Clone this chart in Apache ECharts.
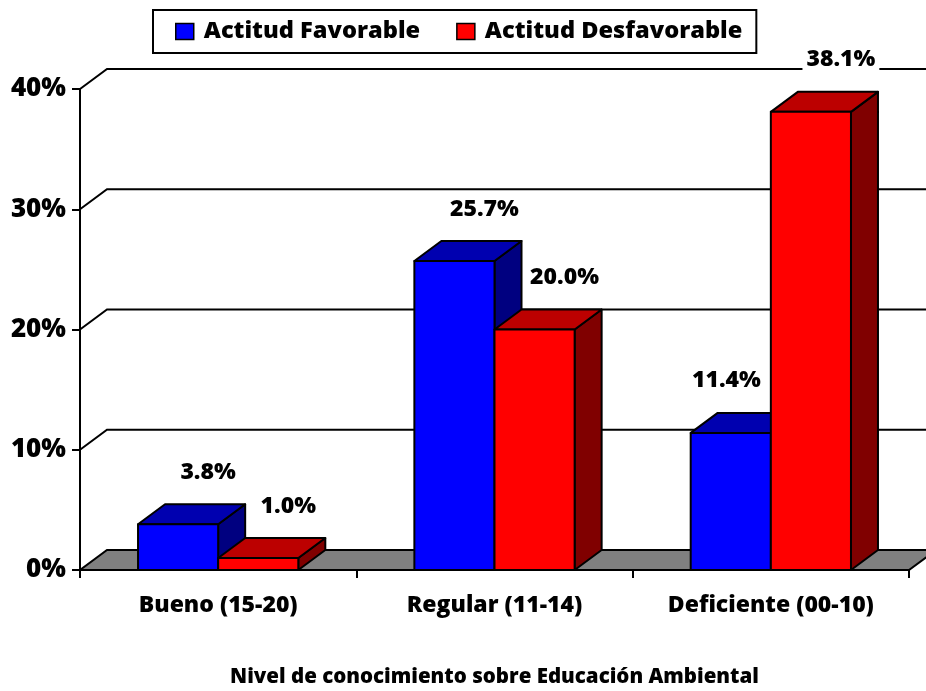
<!DOCTYPE html>
<html>
<head>
<meta charset="utf-8">
<script src="https://cdn.jsdelivr.net/npm/echarts@6/dist/echarts.min.js"></script>
<style>
  html, body { margin: 0; padding: 0; background: #fff; }
  #chart { width: 926px; height: 691px; }
</style>
</head>
<body>
<div id="chart"></div>
<script>
// Data
const categories = ['Bueno (15-20)', 'Regular (11-14)', 'Deficiente (00-10)'];
const seriesNames = ['Actitud Favorable', 'Actitud Desfavorable'];
const favorable = [3.8, 25.7, 11.4];
const desfavorable = [1.0, 20.0, 38.1];
const yTicks = [0, 10, 20, 30, 40];
const axisTitle = 'Nivel de conocimiento sobre Educación Ambiental';

// Pseudo-3D look
const DX = 27, DY = 20;          // depth offset of the back wall
const BAR_FRAC = 0.29;           // bar width as share of a category band
const FONT = '"Open Sans", "DejaVu Sans", sans-serif';
const WEIGHT = 800;
const LABEL_SIZE = 23;
const palettes = [
  { front: '#0000FF', top: '#0000B0', side: '#000080' },
  { front: '#FF0000', top: '#BC0000', side: '#800000' }
];
const seriesValues = [favorable, desfavorable];

const measureCtx = document.createElement('canvas').getContext('2d');
function textWidth(t, size) {
  measureCtx.font = WEIGHT + ' ' + size + 'px ' + FONT;
  return measureCtx.measureText(t).width;
}

// Back wall gridlines, diagonal ticks and grey floor
function renderWall(params, api) {
  const cs = params.coordSys;
  const v = api.value(0);
  const y = api.coord([0, v])[1];
  const x0 = cs.x, w = cs.width;
  if (v === 0) {
    return {
      type: 'polygon',
      shape: { points: [[x0, y], [x0 + w, y], [x0 + w + DX, y - DY], [x0 + DX, y - DY]] },
      style: { fill: '#808080', stroke: '#000', lineWidth: 2 }
    };
  }
  return {
    type: 'polyline',
    shape: { points: [[x0, y], [x0 + DX, y - DY], [x0 + w + DX, y - DY]] },
    style: { fill: null, stroke: '#000', lineWidth: 2 }
  };
}

function makeBarRenderer(si) {
  const pal = palettes[si];
  return function (params, api) {
    const ci = api.value(0), v = api.value(1);
    const band = api.size([1, 0])[0];
    const c = api.coord([ci, v]);
    const base = api.coord([ci, 0]);
    const bw = band * BAR_FRAC;
    const x0 = si === 0 ? c[0] - bw : c[0];
    const x1 = x0 + bw;
    const yt = c[1], yb = base[1];
    const stroke = { stroke: '#000', lineWidth: 2, lineJoin: 'round' };

    // value label above the bar top
    const txt = v.toFixed(1) + '%';
    const half = textWidth(txt, LABEL_SIZE) / 2;
    let lx = (x0 + x1) / 2 + 30;
    const ly = yt - DY - 32;
    const other = seriesValues[1 - si][ci];
    if (si === 0 && api.coord([ci, other])[1] < ly + 14) {
      // taller neighbour on the right: keep the label clear of it
      lx = Math.min(lx, x1 - half - 10);
    }

    return {
      type: 'group',
      children: [
        { type: 'polygon', shape: { points: [[x1, yb], [x1 + DX, yb - DY], [x1 + DX, yt - DY], [x1, yt]] },
          style: Object.assign({ fill: pal.side }, stroke) },
        { type: 'polygon', shape: { points: [[x0, yt], [x1, yt], [x1 + DX, yt - DY], [x0 + DX, yt - DY]] },
          style: Object.assign({ fill: pal.top }, stroke) },
        { type: 'rect', shape: { x: x0, y: yt, width: bw, height: yb - yt },
          style: Object.assign({ fill: pal.front }, stroke) },
        { type: 'text', x: lx, y: ly, z2: 10,
          style: { text: txt, fill: '#000', font: WEIGHT + ' ' + LABEL_SIZE + 'px ' + FONT,
                   align: 'center', verticalAlign: 'middle',
                   backgroundColor: '#fff', padding: [2, 4] } }
      ]
    };
  };
}

const chart = echarts.init(document.getElementById('chart'), null, { renderer: 'canvas' });
chart.setOption({
  animation: false,
  backgroundColor: '#fff',
  textStyle: { fontFamily: FONT },
  grid: { left: 80, right: 17, top: 89, bottom: 121, containLabel: false, outerBoundsMode: 'none' },
  legend: {
    data: seriesNames,
    left: 153, top: 10,
    padding: [8, 14, 8, 22],
    itemGap: 36,
    itemWidth: 18, itemHeight: 16,
    icon: 'rect',
    itemStyle: { borderColor: '#000', borderWidth: 1.5 },
    backgroundColor: '#fff',
    borderColor: '#000', borderWidth: 2, borderRadius: 0,
    textStyle: { fontFamily: FONT, fontWeight: WEIGHT, fontSize: 23.6, color: '#000', lineHeight: 27, padding: [0, 0, 0, 5] }
  },
  xAxis: {
    type: 'category',
    data: categories,
    boundaryGap: true,
    name: axisTitle,
    nameLocation: 'middle',
    nameGap: 97,
    nameTextStyle: { fontFamily: FONT, fontWeight: WEIGHT, fontSize: 20.5, color: '#000' },
    axisLine: { show: true, lineStyle: { color: '#000', width: 2 } },
    axisTick: { show: true, length: 8, alignWithLabel: false, lineStyle: { color: '#000', width: 2 } },
    axisLabel: { margin: 24, fontFamily: FONT, fontWeight: WEIGHT, fontSize: 23, color: '#000' },
    splitLine: { show: false }
  },
  yAxis: {
    type: 'value',
    min: 0, max: 40, interval: 10,
    axisLine: { show: true, lineStyle: { color: '#000', width: 2 } },
    axisTick: { show: true, length: 8, lineStyle: { color: '#000', width: 2 } },
    axisLabel: { formatter: '{value}%', margin: 14, fontFamily: FONT, fontWeight: WEIGHT, fontSize: 26, color: '#000' },
    splitLine: { show: false }
  },
  series: [
    {
      type: 'custom', name: 'wall', z: 1, clip: false, silent: true,
      renderItem: renderWall,
      data: yTicks.map(v => [v])
    },
    {
      type: 'custom', name: seriesNames[0], z: 2, clip: false,
      itemStyle: { color: palettes[0].front },
      renderItem: makeBarRenderer(0),
      encode: { x: 0, y: 1 },
      data: favorable.map((v, i) => [i, v])
    },
    {
      type: 'custom', name: seriesNames[1], z: 3, clip: false,
      itemStyle: { color: palettes[1].front },
      renderItem: makeBarRenderer(1),
      encode: { x: 0, y: 1 },
      data: desfavorable.map((v, i) => [i, v])
    }
  ]
});
</script>
</body>
</html>
